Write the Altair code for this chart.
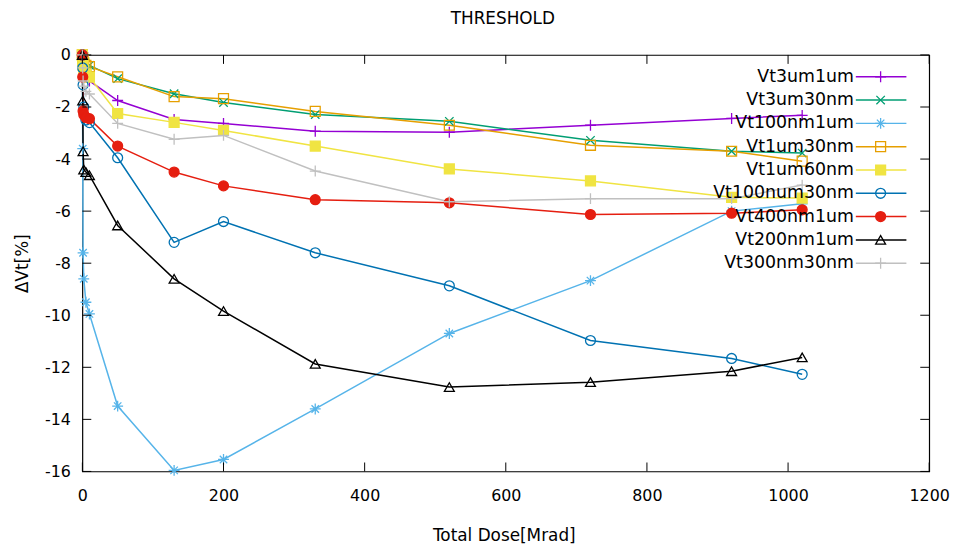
import altair as alt
import pandas as pd

# ---------------- data ----------------
title_text = ["THRESHOLD"]
series_names = ["Vt3um1um", "Vt3um30nm", "Vt100nm1um", "Vt1um30nm", "Vt1um60nm",
                "Vt100num30nm", "Vt400nm1um", "Vt200nm1um", "Vt300nm30nm"]
dose = [0, 0.5, 1, 2, 5, 10, 50, 130, 200, 330, 520, 720, 920, 1020]

vt3um1um = [0, -0.2, -0.4, -0.6, -0.85, -1.0, -1.75, -2.48, -2.63, -2.93, -2.97, -2.7, -2.44, -2.32]
vt3um30nm = [0, -0.1, -0.15, -0.25, -0.35, -0.4, -0.91, -1.49, -1.83, -2.29, -2.55, -3.28, -3.7, -3.77]
vt100nm1um = [0, -3.6, -7.6, -8.6, -9.5, -9.95, -13.49, -15.96, -15.54, -13.6, -10.7, -8.67, -6.0, -5.72]
vt1um30nm = [0, -0.1, -0.2, -0.3, -0.4, -0.45, -0.84, -1.6, -1.68, -2.17, -2.7, -3.47, -3.7, -4.08]
vt1um60nm = [0, -0.2, -0.4, -0.6, -0.75, -0.85, -2.25, -2.59, -2.9, -3.5, -4.38, -4.84, -5.47, -5.5]
vt100num30nm = [0, -0.5, -1.15, -2.0, -2.5, -2.6, -3.95, -7.2, -6.4, -7.6, -8.87, -10.97, -11.66, -12.27]
vt400nm1um = [0, -0.85, -2.15, -2.3, -2.4, -2.45, -3.5, -4.5, -5.03, -5.56, -5.68, -6.13, -6.08, -5.95]
vt200nm1um = [0, -1.75, -3.7, -4.4, -4.5, -4.62, -6.55, -8.6, -9.84, -11.87, -12.76, -12.57, -12.15, -11.62]
vt300nm30nm = [0, -0.5, -1.0, -1.2, -1.4, -1.5, -2.63, -3.24, -3.09, -4.46, -5.64, -5.52, -5.52, -5.0]

all_series = [vt3um1um, vt3um30nm, vt100nm1um, vt1um30nm, vt1um60nm,
              vt100num30nm, vt400nm1um, vt200nm1um, vt300nm30nm]

x_tick_values = [0, 200, 400, 600, 800, 1000, 1200]
y_tick_values = [-16, -14, -12, -10, -8, -6, -4, -2, 0]

# ---------------- styles ----------------
colors = ["#9400d3", "#009e73", "#56b4e9", "#e69f00", "#f0e442",
          "#0072b2", "#e51e10", "#000000", "#c0c0c0"]
PLUS = "M-1.1,0L1.1,0M0,-1.1L0,1.1"
CROSS = "M-0.85,-0.85L0.85,0.85M-0.85,0.85L0.85,-0.85"
STAR = "M-1.1,0L1.1,0M0,-1.1L0,1.1M-0.75,-0.75L0.75,0.75M-0.75,0.75L0.75,-0.75"
shapes = [PLUS, CROSS, STAR, "square", "square", "circle", "circle", "triangle-up", PLUS]
fills = ["transparent", "transparent", "transparent", "transparent", "#f0e442",
         "transparent", "#e51e10", "transparent", "transparent"]

rows = []
for name, vals in zip(series_names, all_series):
    for d, v in zip(dose, vals):
        rows.append({"series": name, "dose": d, "dvt": v})
df = pd.DataFrame(rows)
xt_df = pd.DataFrame({"v": x_tick_values})
yt_df = pd.DataFrame({"v": y_tick_values})
leg_df = pd.DataFrame({"series": series_names})
title_df = pd.DataFrame({"t": title_text})

W, H = 854, 420
TICK = 9
FONT = "DejaVu Sans"

x_scale = alt.Scale(domain=[0, 1200], nice=False, zero=False)
y_scale = alt.Scale(domain=[-16, 0], nice=False, zero=False)
stroke_scale = alt.Scale(domain=series_names, range=colors)
fill_scale = alt.Scale(domain=series_names, range=fills)
shape_scale = alt.Scale(domain=series_names, range=shapes)

x_axis = alt.Axis(values=x_tick_values, labelExpr="'' + datum.value", labelFlush=False,
                  labelPadding=16, titleX=W / 2 - 2, titleY=65,
                  titleBaseline="middle", titleAlign="center")
y_axis = alt.Axis(values=y_tick_values, labelExpr="'' + datum.value", labelFlush=False,
                  labelPadding=12, titleX=-60, titleY=H / 2,
                  titleBaseline="middle", titleAlign="center", titleAngle=270)

X_TITLE = "Total Dose[Mrad]"
Y_TITLE = "ΔVt[%]"

lines = alt.Chart(df).mark_line(strokeWidth=1.5, clip=False).encode(
    x=alt.X("dose:Q", scale=x_scale, axis=x_axis, title=X_TITLE),
    y=alt.Y("dvt:Q", scale=y_scale, axis=y_axis, title=Y_TITLE),
    stroke=alt.Stroke("series:N", scale=stroke_scale, legend=None),
    order=alt.Order("dose:Q"),
)
points = alt.Chart(df).mark_point(size=100, strokeWidth=1.3, opacity=1, clip=False).encode(
    x=alt.X("dose:Q", scale=x_scale, axis=x_axis, title=X_TITLE),
    y=alt.Y("dvt:Q", scale=y_scale, axis=y_axis, title=Y_TITLE),
    stroke=alt.Stroke("series:N", scale=stroke_scale, legend=None),
    fill=alt.Fill("series:N", scale=fill_scale, legend=None),
    shape=alt.Shape("series:N", scale=shape_scale, legend=None),
)

xt_bottom = alt.Chart(xt_df).mark_rule(color="black", strokeWidth=1).encode(
    x=alt.X("v:Q", scale=x_scale, axis=x_axis, title=X_TITLE),
    y=alt.value(H), y2=alt.value(H - TICK))
xt_top = alt.Chart(xt_df).mark_rule(color="black", strokeWidth=1).encode(
    x=alt.X("v:Q", scale=x_scale, axis=x_axis, title=X_TITLE),
    y=alt.value(0), y2=alt.value(TICK))
yt_left = alt.Chart(yt_df).mark_rule(color="black", strokeWidth=1).encode(
    y=alt.Y("v:Q", scale=y_scale, axis=y_axis, title=Y_TITLE),
    x=alt.value(0), x2=alt.value(TICK))
yt_right = alt.Chart(yt_df).mark_rule(color="black", strokeWidth=1).encode(
    y=alt.Y("v:Q", scale=y_scale, axis=y_axis, title=Y_TITLE),
    x=alt.value(W - TICK), x2=alt.value(W))

main = alt.layer(lines, points, xt_bottom, xt_top, yt_left, yt_right)

leg_y = alt.Y("series:N", scale=alt.Scale(type="point", domain=series_names,
                                          range=[22, 210], padding=0), axis=None)
leg_text = alt.Chart(leg_df).mark_text(align="right", baseline="middle", fontSize=17.5,
                                       font=FONT, color="black").encode(
    x=alt.value(778), y=leg_y, text="series:N")
leg_rule = alt.Chart(leg_df).mark_rule(strokeWidth=1.5).encode(
    x=alt.value(780), x2=alt.value(831), y=leg_y,
    stroke=alt.Stroke("series:N", scale=stroke_scale, legend=None))
leg_pts = alt.Chart(leg_df).mark_point(size=100, strokeWidth=1.3, opacity=1).encode(
    x=alt.value(805), y=leg_y,
    stroke=alt.Stroke("series:N", scale=stroke_scale, legend=None),
    fill=alt.Fill("series:N", scale=fill_scale, legend=None),
    shape=alt.Shape("series:N", scale=shape_scale, legend=None))
title_mark = alt.Chart(title_df).mark_text(align="center", baseline="middle", fontSize=17,
                                           font=FONT, color="black").encode(
    x=alt.value(W / 2 - 3), y=alt.value(-36), text="t:N")
legend = alt.layer(leg_text, leg_rule, leg_pts, title_mark)

chart = alt.layer(main, legend).resolve_scale(y="independent").properties(
    width=W, height=H,
    autosize=alt.AutoSizeParams(type="none"),
    padding={"left": 75, "top": 45, "right": 24, "bottom": 90},
).configure_view(stroke="black", strokeWidth=1.2).configure_axis(
    grid=False, ticks=False, domain=False, labelFont=FONT, labelFontSize=16,
    labelColor="black", titleFont=FONT, titleFontSize=17, titleFontWeight="normal",
    titleColor="black",
)

chart.save("out.html", embed_options={"renderer": "svg", "actions": False})
